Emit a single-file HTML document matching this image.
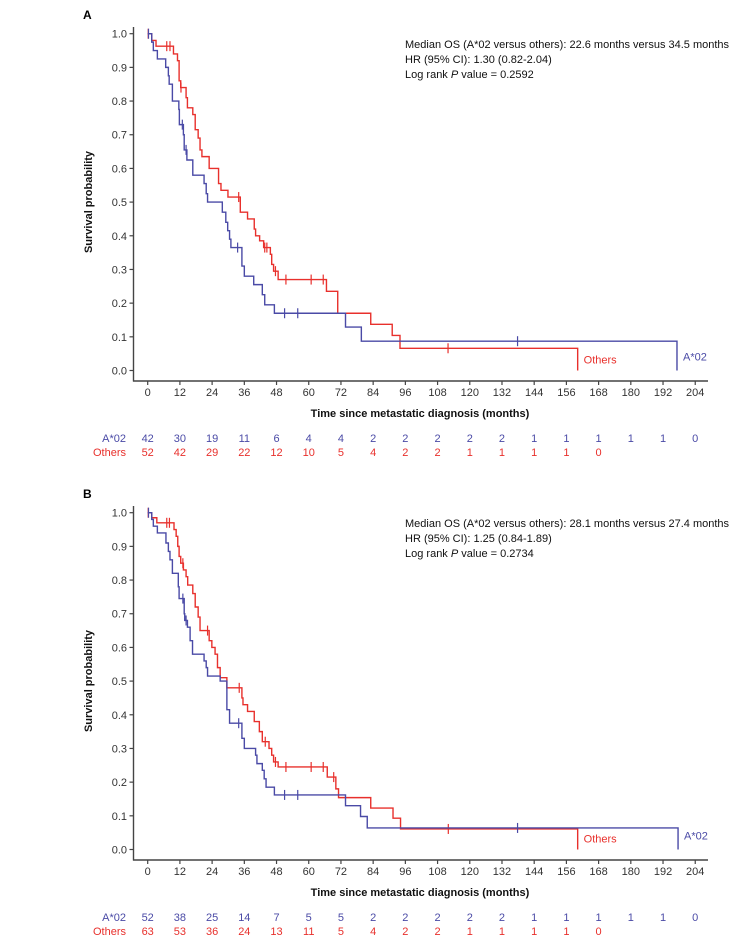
<!DOCTYPE html>
<html><head><meta charset="utf-8"><style>
html,body{margin:0;padding:0;background:#fff;}
svg{display:block;font-family:"Liberation Sans",Arial,sans-serif;}
</style></head><body>
<svg id="chart" width="748" height="945" viewBox="0 0 748 945"></svg>
<script>
const xTicks=[0,12,24,36,48,60,72,84,96,108,120,132,144,156,168,180,192,204];
const yTicks=[0,0.1,0.2,0.3,0.4,0.5,0.6,0.7,0.8,0.9,1.0];
const yTickLabels=["0.0","0.1","0.2","0.3","0.4","0.5","0.6","0.7","0.8","0.9","1.0"];
// Panel A
const aRedSteps=[[1.5,0.98],[3.1,0.963],[9.6,0.94],[11.1,0.92],[11.7,0.86],[12.3,0.84],[14.3,0.81],[14.8,0.78],[16.8,0.76],[17.7,0.715],[18.8,0.69],[19.5,0.655],[20.2,0.635],[22.9,0.60],[26.4,0.555],[27.3,0.535],[29.9,0.515],[34.5,0.47],[37.2,0.45],[39.7,0.42],[40.2,0.40],[41.7,0.385],[43.2,0.365],[45.7,0.345],[46.2,0.315],[46.9,0.295],[48.6,0.27],[66.6,0.235],[70.8,0.17],[83.1,0.137],[91.1,0.104],[94.0,0.066]];
const aRedEnd=160.2;
const aRedCensor=[0.2,7.1,8.3,12.4,33.9,43.6,44.4,47.6,51.5,60.9,65.4,111.9];
const aBlueSteps=[[1.5,0.975],[2.1,0.95],[3.6,0.925],[6.7,0.90],[7.7,0.875],[8.0,0.85],[9.2,0.80],[11.6,0.775],[11.8,0.73],[13.3,0.70],[13.6,0.655],[14.6,0.625],[16.8,0.58],[21.0,0.555],[21.8,0.525],[22.3,0.50],[27.8,0.47],[29.1,0.44],[29.8,0.415],[30.5,0.39],[31.0,0.365],[35.1,0.31],[36.0,0.28],[39.5,0.255],[42.7,0.225],[43.6,0.195],[47.2,0.17],[73.7,0.129],[79.6,0.087]];
const aBlueEnd=197.2;
const aBlueCensor=[0.3,12.9,14.3,33.5,51.0,55.9,137.8];
const aRiskBlue=["42","30","19","11","6","4","4","2","2","2","2","2","1","1","1","1","1","0"];
const aRiskRed=["52","42","29","22","12","10","5","4","2","2","1","1","1","1","0"];
const aStats=["Median OS (A*02 versus others): 22.6 months versus 34.5 months","HR (95% CI): 1.30 (0.82-2.04)","0.2592"];
// Panel B
const bRedSteps=[[1.5,0.985],[3.4,0.97],[9.8,0.95],[10.6,0.93],[11.2,0.90],[11.7,0.87],[12.3,0.85],[13.3,0.83],[14.3,0.81],[14.9,0.785],[16.8,0.76],[17.7,0.72],[18.8,0.69],[19.5,0.65],[22.9,0.62],[23.9,0.60],[25.1,0.58],[26.0,0.54],[27.0,0.51],[29.5,0.48],[35.1,0.45],[35.5,0.43],[37.2,0.41],[39.7,0.38],[41.6,0.35],[42.7,0.32],[45.2,0.30],[46.2,0.28],[46.9,0.26],[48.6,0.245],[66.9,0.215],[70.1,0.18],[71.1,0.154],[83.1,0.123],[91.4,0.093],[94.2,0.061]];
const bRedEnd=160.2;
const bRedCensor=[0.2,7.1,8.1,13.1,22.3,34.1,43.8,47.6,51.5,60.9,65.4,69.3,112];
const bBlueSteps=[[1.5,0.98],[2.1,0.96],[3.6,0.94],[6.8,0.91],[7.7,0.885],[8.3,0.86],[9.2,0.82],[11.4,0.78],[11.7,0.745],[13.6,0.70],[13.8,0.68],[14.8,0.66],[15.8,0.62],[16.7,0.58],[21.0,0.56],[21.8,0.54],[22.3,0.515],[27.0,0.50],[29.5,0.415],[30.5,0.375],[35.1,0.33],[36.0,0.30],[40.2,0.28],[40.7,0.255],[42.7,0.235],[43.4,0.21],[44.1,0.185],[47.2,0.162],[73.7,0.13],[79.3,0.098],[81.8,0.064]];
const bBlueEnd=197.6;
const bBlueCensor=[0.3,13.1,14.3,33.9,51.0,55.9,137.8];
const bRiskBlue=["52","38","25","14","7","5","5","2","2","2","2","2","1","1","1","1","1","0"];
const bRiskRed=["63","53","36","24","13","11","5","4","2","2","1","1","1","1","0"];
const bStats=["Median OS (A*02 versus others): 28.1 months versus 27.4 months","HR (95% CI): 1.25 (0.84-1.89)","0.2734"];

const BLUE="#4a4aa6",RED="#e8302c",NS="http://www.w3.org/2000/svg";
const svg=document.getElementById('chart');
function mk(tag,attrs,parent,text){const e=document.createElementNS(NS,tag);for(const k in attrs)e.setAttribute(k,attrs[k]);if(text!==undefined)e.textContent=text;(parent||svg).appendChild(e);return e;}
const X=m=>147.7+m*2.684;

function panel(letter,off,redSteps,redEnd,redCensor,blueSteps,blueEnd,blueCensor,riskBlue,riskRed,stats){
  const Y=v=>370.5+off-v*336.8;
  const g=mk('g',{});
  
  
  const pl=mk('text',{x:83,y:19+off,'font-size':12,'font-weight':'bold',fill:'#000'},g,letter);
  
  
  // axes
  const ya=mk('line',{x1:133.5,y1:27+off,x2:133.5,y2:381.5+off,stroke:'#444','stroke-width':1.4},g);
  
  
  const xa=mk('line',{x1:133,y1:381+off,x2:708,y2:381+off,stroke:'#444','stroke-width':1.4},g);
  
  
  yTicks.forEach((v,i)=>{
    mk('line',{x1:129.5,y1:Y(v),x2:133.5,y2:Y(v),stroke:'#444','stroke-width':1.2},g);
    const t=mk('text',{x:127,y:Y(v)+4,'font-size':11,fill:'#333','text-anchor':'end'},g,yTickLabels[i]);
    
    
  });
  xTicks.forEach(m=>{
    mk('line',{x1:X(m),y1:381+off,x2:X(m),y2:385+off,stroke:'#444','stroke-width':1.2},g);
    const t=mk('text',{x:X(m),y:396+off,'font-size':11,fill:'#333','text-anchor':'middle'},g,String(m));
    
    
  });
  const xt=mk('text',{x:420,y:417+off,'font-size':11,'font-weight':'bold',fill:'#111','text-anchor':'middle'},g,'Time since metastatic diagnosis (months)');
  
  
  const yt=mk('text',{x:0,y:0,'font-size':11,'font-weight':'bold',fill:'#111','text-anchor':'middle',transform:`translate(92,${202+off}) rotate(-90)`},g,'Survival probability');
  
  
  function curve(steps,end,cens,color,name){
    let d=`M${X(0)},${Y(1)}`;let s=1;
    steps.forEach(([t,v])=>{d+=` H${X(t)} V${Y(v)}`;s=v;});
    d+=` H${X(end)} V${Y(0)}`;
    const p=mk('path',{d:d,fill:'none',stroke:color,'stroke-width':1.4},g);
    
    
    cens.forEach(c=>{
      let v=1;steps.forEach(([t,sv])=>{if(t<=c)v=sv;});
      const l=mk('line',{x1:X(c),y1:Y(v)-5,x2:X(c),y2:Y(v)+5,stroke:color,'stroke-width':1.2},g);
      
      
    });
  }
  curve(redSteps,redEnd,redCensor,RED,'others');
  curve(blueSteps,blueEnd,blueCensor,BLUE,'a02');
  const ol=mk('text',{x:X(redEnd)+6,y:Y(0)-7,'font-size':11,fill:RED},g,'Others');
  
  
  const bl=mk('text',{x:X(blueEnd)+6,y:Y(0)-10,'font-size':11,fill:BLUE},g,'A*02');
  
  
  // stats
  const s1=mk('text',{x:405,y:48+off,'font-size':11,fill:'#111'},g,stats[0]);
  
  
  const s2=mk('text',{x:405,y:63+off,'font-size':11,fill:'#111'},g,stats[1]);
  
  
  const s3=mk('text',{x:405,y:78+off,'font-size':11,fill:'#111'},g);
  
  
  s3.appendChild(document.createTextNode('Log rank '));
  mk('tspan',{'font-style':'italic'},s3,'P');
  s3.appendChild(document.createTextNode(' value = '+stats[2]));
  // risk table
  const rb=mk('text',{x:126,y:442+off,'font-size':11,fill:BLUE,'text-anchor':'end'},g,'A*02');
  
  
  const rr=mk('text',{x:126,y:456+off,'font-size':11,fill:RED,'text-anchor':'end'},g,'Others');
  
  
  riskBlue.forEach((n,i)=>{
    const t=mk('text',{x:X(xTicks[i]),y:442+off,'font-size':11,fill:BLUE,'text-anchor':'middle'},g,n);
    
    
  });
  riskRed.forEach((n,i)=>{
    const t=mk('text',{x:X(xTicks[i]),y:456+off,'font-size':11,fill:RED,'text-anchor':'middle'},g,n);
    
    
  });
}
panel('A',0,aRedSteps,aRedEnd,aRedCensor,aBlueSteps,aBlueEnd,aBlueCensor,aRiskBlue,aRiskRed,aStats);
panel('B',479,bRedSteps,bRedEnd,bRedCensor,bBlueSteps,bBlueEnd,bBlueCensor,bRiskBlue,bRiskRed,bStats);
</script>
</body></html>
